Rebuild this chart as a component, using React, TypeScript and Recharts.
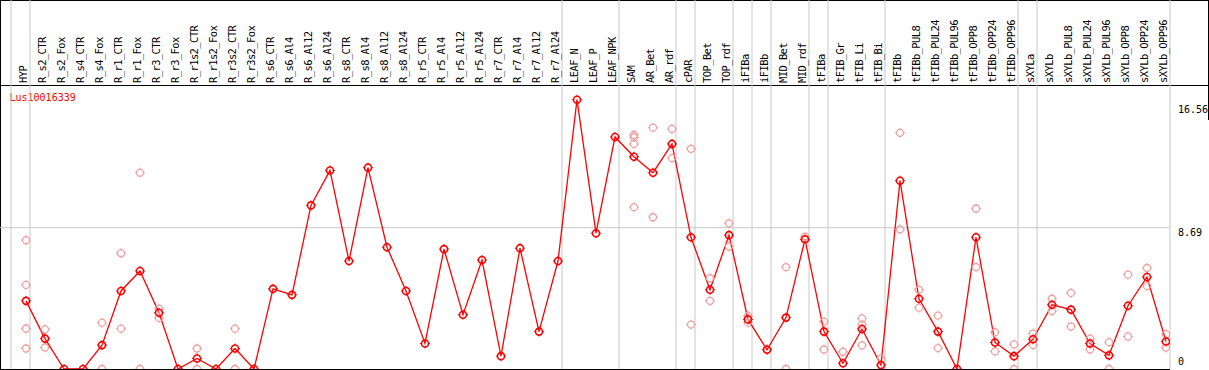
import React from 'react';
import { ComposedChart, Line, Scatter, XAxis, YAxis, ReferenceLine, Customized } from 'recharts';

const categories = [
  'HYP', 'R_s2_CTR', 'R_s2_Fox', 'R_s4_CTR', 'R_s4_Fox', 'R_r1_CTR', 'R_r1_Fox', 'R_r3_CTR', 'R_r3_Fox',
  'R_r1s2_CTR', 'R_r1s2_Fox', 'R_r3s2_CTR', 'R_r3s2_Fox', 'R_s6_CTR', 'R_s6_Al4', 'R_s6_Al12', 'R_s6_Al24',
  'R_s8_CTR', 'R_s8_Al4', 'R_s8_Al12', 'R_s8_Al24', 'R_r5_CTR', 'R_r5_Al4', 'R_r5_Al12', 'R_r5_Al24',
  'R_r7_CTR', 'R_r7_Al4', 'R_r7_Al12', 'R_r7_Al24', 'LEAF_N', 'LEAF_P', 'LEAF_NPK', 'SAM', 'AR_Bet', 'AR_rdf',
  'cPAR', 'TOP_Bet', 'TOP_rdf', 'iFIBa', 'iFIBb', 'MID_Bet', 'MID_rdf', 'tFIBa', 'tFIB_Gr', 'tFIB_Li', 'tFIB_Bi',
  'tFIBb', 'tFIBb_PUL8', 'tFIBb_PUL24', 'tFIBb_PUL96', 'tFIBb_OPP8', 'tFIBb_OPP24', 'tFIBb_OPP96', 'sXYLa',
  'sXYLb', 'sXYLb_PUL8', 'sXYLb_PUL24', 'sXYLb_PUL96', 'sXYLb_OPP8', 'sXYLb_OPP24', 'sXYLb_OPP96',
];

const means = [
  4.19, 1.87, 0, 0, 1.47, 4.80, 6.03, 3.46, 0,
  0.65, 0, 1.26, 0, 4.93, 4.56, 10.06, 12.21,
  6.64, 12.38, 7.49, 4.80, 1.57, 7.37, 3.34, 6.70,
  0.79, 7.43, 2.30, 6.64, 16.56, 8.35, 14.27, 13.05, 12.07, 13.84,
  8.10, 4.87, 8.23, 3.05, 1.18, 3.16, 7.98, 2.30, 0.35, 2.46, 0.24,
  11.58, 4.32, 2.30, 0, 8.10, 1.63, 0.79, 1.83,
  3.95, 3.65, 1.57, 0.84, 3.89, 5.66, 1.69,
];

const replicates: number[][] = [
  [7.92, 5.17, 2.49, 1.26], [2.44, 1.32], [], [], [2.85, 0], [7.12, 2.48], [12.07, 0], [3.71, 3.14], [],
  [1.26, 0], [], [2.48, 0], [], [], [], [], [],
  [], [], [], [], [], [], [], [],
  [], [], [], [], [], [], [], [14.39, 14.25, 13.84, 9.95], [14.84, 9.33], [14.76, 12.97],
  [13.54, 2.73], [5.58, 4.19], [8.96, 7.53], [3.26, 2.85], [1.22], [6.27, 0], [8.14, 7.94], [2.91, 1.20], [1.06], [3.11, 2.73, 1.45], [0.65],
  [14.52, 8.59], [4.87, 3.77], [3.28, 1.28], [], [9.87, 6.27], [2.26, 1.08], [1.51, 0], [2.18, 1.47],
  [4.32, 3.56], [4.68, 2.61], [1.87, 1.20], [1.65, 0], [5.80, 2.00], [6.21, 5.11], [2.14, 1.32],
];

const yTicks = [0, 8.69, 16.56];
const groupEnds = [-1, 0, 28, 31, 34, 35, 37, 38, 39, 41, 42, 45, 52, 53, 60];
const geneName = 'Lus10016339';

const lineData = categories.map((c, i) => ({ x: i, v: means[i], name: c }));
const repData = replicates.flatMap((arr, i) => arr.map((v) => ({ x: i, v })));

const MONO = 'DejaVu Sans Mono, monospace';
const RED = '#ff0000';
const PINK = '#f0a0a0';
const GRID = '#c8c8c8';

const Marker = ({ cx, cy, color, sw }: { cx: number; cy: number; color: string; sw: number }) => {
  if (cx == null || cy == null || isNaN(cx) || isNaN(cy)) return null;
  const r = 3.5;
  const t = 1.5;
  return (
    <g>
      <circle cx={cx} cy={cy} r={r} fill="none" stroke={color} strokeWidth={sw} />
      <line x1={cx} y1={cy - r - t} x2={cx} y2={cy - r} stroke={color} strokeWidth={1} />
      <line x1={cx} y1={cy + r} x2={cx} y2={cy + r + t} stroke={color} strokeWidth={1} />
      <line x1={cx - r - t} y1={cy} x2={cx - r} y2={cy} stroke={color} strokeWidth={1} />
      <line x1={cx + r} y1={cy} x2={cx + r + t} y2={cy} stroke={color} strokeWidth={1} />
    </g>
  );
};

const HeaderTick = (props: any) => {
  const { x, payload } = props;
  const bx = x + 0.5;
  const by = 83;
  return (
    <text
      x={bx}
      y={by}
      transform={`rotate(-90 ${bx} ${by})`}
      fontFamily={MONO}
      fontSize={10.5}
      letterSpacing={-0.6}
      fill="#000"
      textAnchor="start"
    >
      {categories[payload.value]}
    </text>
  );
};

const RightTick = (props: any) => {
  const { x, y, payload } = props;
  const v = payload.value;
  const dy = v === 0 ? -4 : v === 8.69 ? 8 : 13;
  return (
    <text x={x} y={y + dy} fontFamily={MONO} fontSize={10} fill="#000" textAnchor="start">
      {v === 0 ? '0' : v.toFixed(2)}
    </text>
  );
};

const Frame = () => (
  <g>
    <line x1={0} y1={0.5} x2={1209} y2={0.5} stroke="#000" strokeWidth={1} />
    <line x1={0} y1={85.5} x2={1209} y2={85.5} stroke="#000" strokeWidth={1} />
    <line x1={0.5} y1={0} x2={0.5} y2={370} stroke="#000" strokeWidth={1} />
    <line x1={0} y1={369.5} x2={1170} y2={369.5} stroke="#000" strokeWidth={1} />
    <line x1={1208.5} y1={0} x2={1208.5} y2={120} stroke="#000" strokeWidth={1} />
    <text x={9.5} y={100.5} fontFamily={MONO} fontSize={10} fill={RED}>
      {geneName}
    </text>
  </g>
);

export default function App() {
  return (
    <div style={{ position: 'absolute', left: 0, top: 0, width: 1209, height: 370, background: '#fff' }}>
      <ComposedChart width={1209} height={370} margin={{ top: 0, right: 0, bottom: 1, left: 0 }}>
        <XAxis
          type="number"
          dataKey="x"
          domain={[-26 / 19, 1144 / 19]}
          allowDataOverflow
          orientation="top"
          mirror
          ticks={categories.map((_, i) => i)}
          interval={0}
          tick={<HeaderTick />}
          axisLine={false}
          tickLine={false}
        />
        <YAxis
          type="number"
          orientation="right"
          domain={[0, 22.69]}
          allowDataOverflow
          ticks={yTicks}
          interval={0}
          width={39}
          axisLine={false}
          tickLine={false}
          tickSize={0}
          tickMargin={8}
          tick={<RightTick />}
        />
        {groupEnds.map((g) => (
          <ReferenceLine key={`g${g}`} x={g + 4 / 19} stroke={GRID} strokeWidth={1} ifOverflow="visible" />
        ))}
        <ReferenceLine y={8.69} stroke={GRID} strokeWidth={1} />
        <Customized component={Frame} />
        <Scatter
          data={repData}
          dataKey="v"
          isAnimationActive={false}
          shape={(p: any) => <Marker cx={p.cx} cy={p.cy} color={PINK} sw={1.3} />}
        />
        <Line
          data={lineData}
          dataKey="v"
          stroke={RED}
          strokeWidth={1.3}
          isAnimationActive={false}
          dot={(p: any) => <Marker key={`d${p.index}`} cx={p.cx} cy={p.cy} color={RED} sw={1.6} />}
          activeDot={false}
        />
      </ComposedChart>
    </div>
  );
}
